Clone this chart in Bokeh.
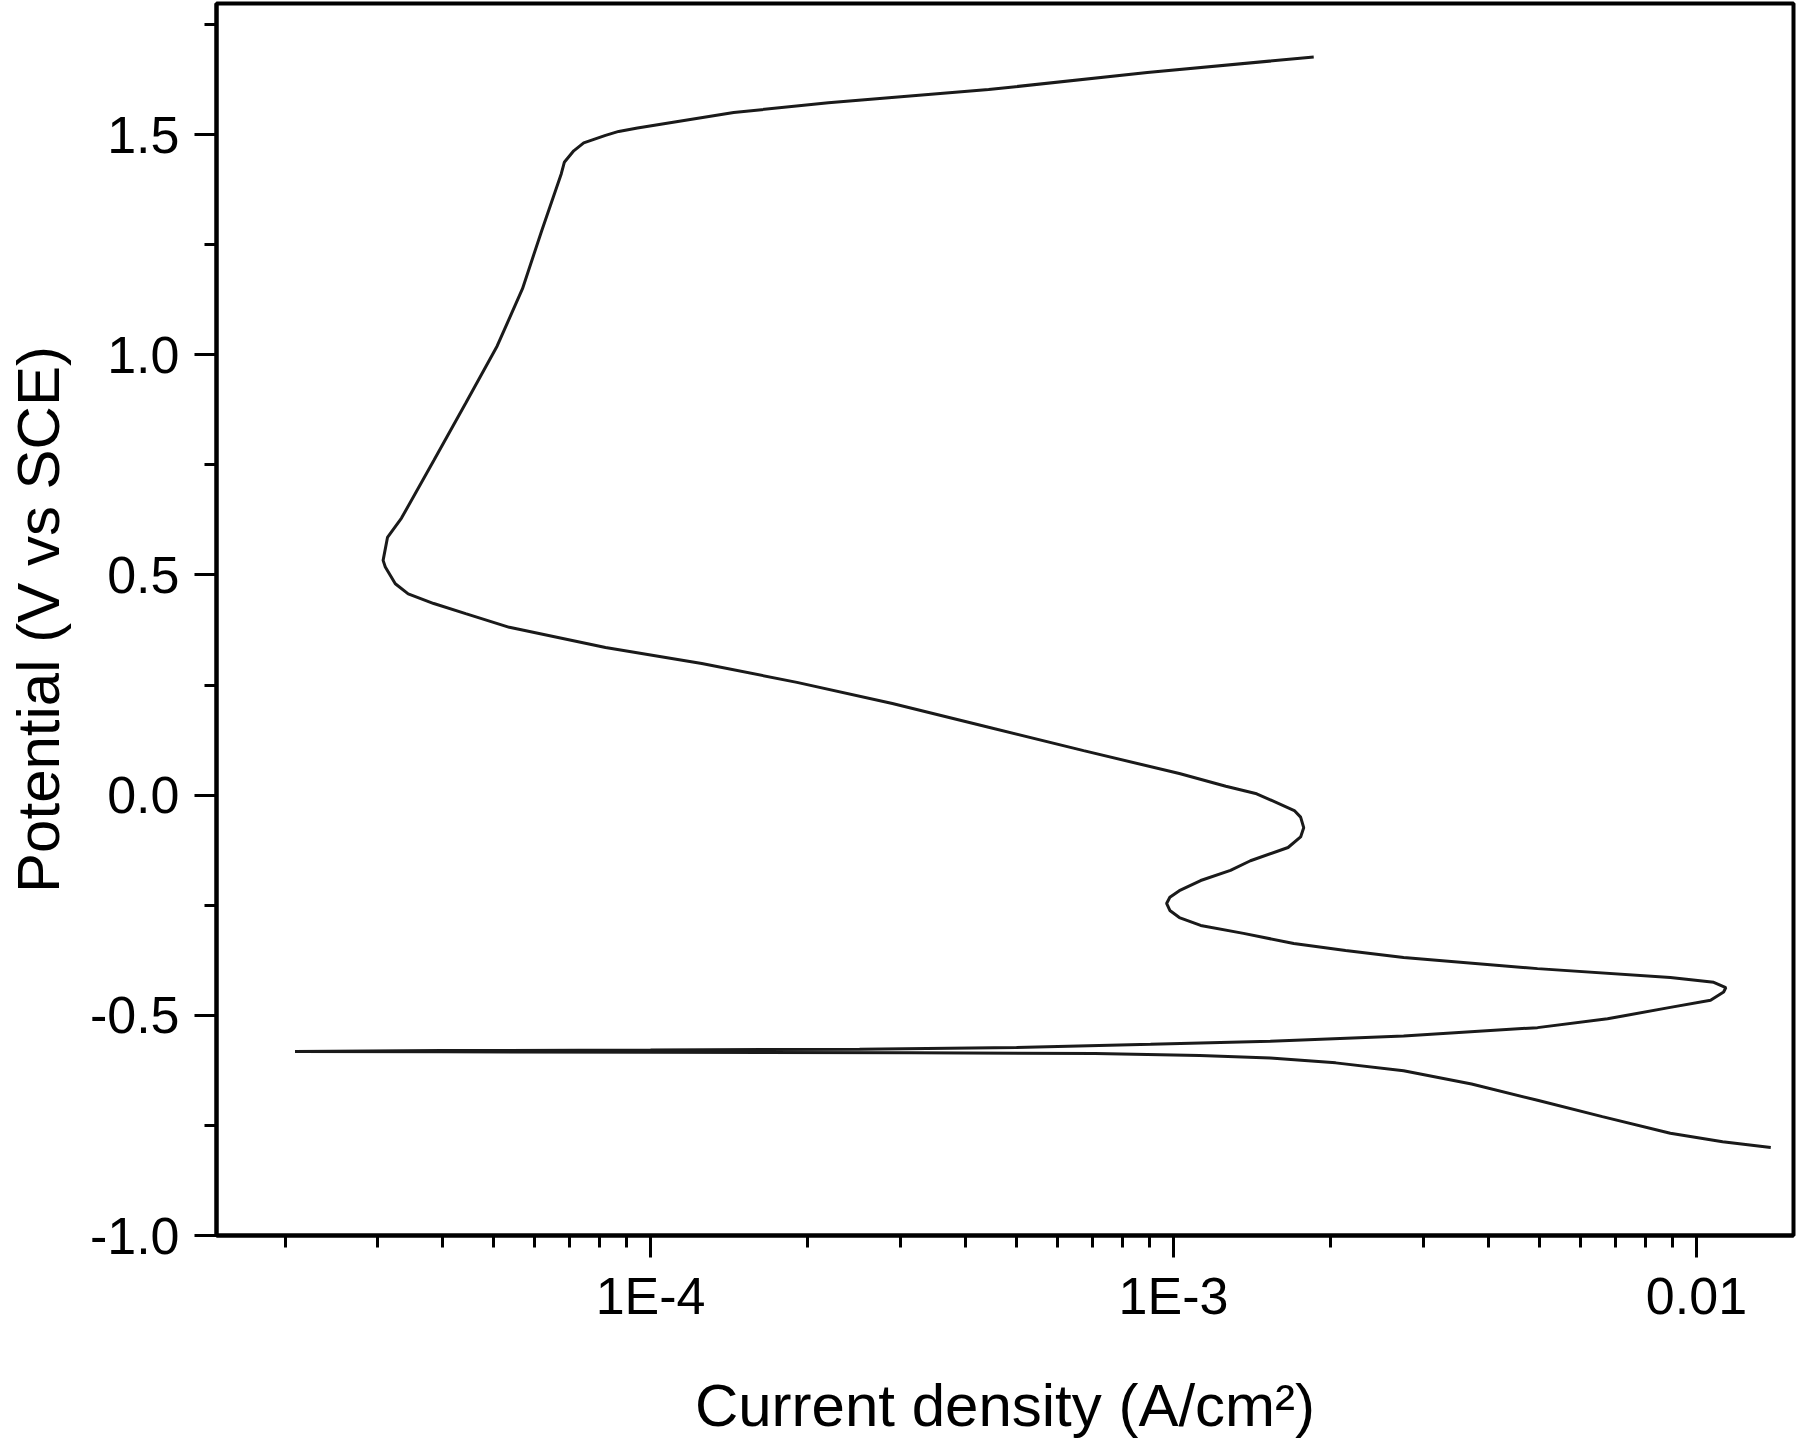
from bokeh.plotting import figure
from bokeh.models import FixedTicker, PrintfTickFormatter, CustomJSTickFormatter, Range1d
from bokeh.embed import file_html
from bokeh.resources import INLINE

# Current density (A/cm^2), in drawing order
current_density = [
    # cathodic branch
    1.387e-2, 1.122e-2, 8.913e-3, 6.607e-3, 4.966e-3, 3.715e-3, 2.754e-3, 2.042e-3,
    1.531e-3, 1.122e-3, 7.08e-4, 3.16e-4, 1.0e-4, 3.98e-5, 2.09e-5,
    # anodic return to the -0.44 V peak
    3.98e-5, 1.0e-4, 2.51e-4, 5.01e-4, 9.04e-4, 1.531e-3, 2.754e-3, 4.966e-3,
    6.76e-3, 8.913e-3, 1.064e-2, 1.127e-2, 1.138e-2, 1.079e-2, 8.913e-3, 4.966e-3, 2.754e-3,
    # S-bend
    2.133e-3, 1.698e-3, 1.361e-3, 1.127e-3, 1.026e-3, 9.84e-4, 9.70e-4, 9.84e-4,
    1.026e-3, 1.127e-3, 1.285e-3, 1.403e-3, 1.656e-3, 1.750e-3, 1.774e-3, 1.750e-3,
    1.702e-3, 1.442e-3, 1.259e-3, 1.026e-3,
    # passive region and transpassive
    6.73e-4, 4.43e-4, 2.90e-4, 1.905e-4, 1.253e-4, 8.20e-5, 5.37e-5, 4.43e-5,
    3.85e-5, 3.44e-5, 3.25e-5, 3.11e-5, 3.08e-5, 3.14e-5, 3.34e-5, 3.85e-5,
    4.43e-5, 5.09e-5, 5.69e-5, 6.19e-5, 6.75e-5, 6.84e-5, 7.13e-5, 7.45e-5,
    8.20e-5, 8.69e-5, 9.44e-5, 1.442e-4, 2.188e-4, 4.43e-4, 8.91e-4, 1.854e-3,
]
# Potential (V vs SCE)
potential = [
    -0.800, -0.787, -0.768, -0.730, -0.693, -0.656, -0.626, -0.608,
    -0.597, -0.591, -0.587, -0.585, -0.584, -0.583, -0.582,
    -0.580, -0.579, -0.577, -0.573, -0.566, -0.559, -0.547, -0.528,
    -0.508, -0.482, -0.466, -0.447, -0.437, -0.425, -0.414, -0.394, -0.369,
    -0.353, -0.337, -0.314, -0.296, -0.278, -0.262, -0.246, -0.232,
    -0.217, -0.194, -0.171, -0.149, -0.119, -0.095, -0.074, -0.050,
    -0.035, 0.003, 0.020, 0.049,
    0.101, 0.154, 0.208, 0.256, 0.299, 0.335, 0.381, 0.412,
    0.435, 0.457, 0.480, 0.518, 0.533, 0.585, 0.629, 0.760,
    0.890, 1.020, 1.150, 1.281, 1.411, 1.437, 1.463, 1.481,
    1.498, 1.507, 1.515, 1.550, 1.572, 1.602, 1.641, 1.676,
]

x_tick_values = [1e-4, 1e-3, 1e-2]
x_tick_labels = ["1E-4", "1E-3", "0.01"]
x_minor_values = [2e-5, 3e-5, 4e-5, 5e-5, 6e-5, 7e-5, 8e-5, 9e-5,
                  2e-4, 3e-4, 4e-4, 5e-4, 6e-4, 7e-4, 8e-4, 9e-4,
                  2e-3, 3e-3, 4e-3, 5e-3, 6e-3, 7e-3, 8e-3, 9e-3]
y_tick_values = [-1.0, -0.5, 0.0, 0.5, 1.0, 1.5]
y_minor_values = [-0.75, -0.25, 0.25, 0.75, 1.25, 1.75]
x_title = "Current density (A/cm²)"
y_title = "Potential (V vs SCE)"

FONT = "Liberation Sans"

p = figure(width=1800, height=1447, x_axis_type="log",
           x_range=Range1d(1.479e-5, 1.533e-2), y_range=Range1d(-1.0, 1.7975),
           output_backend="svg", toolbar_location=None,
           min_border_left=216, min_border_right=7, min_border_top=3, min_border_bottom=212)

p.line(current_density, potential, line_color="#1a1a1a", line_width=3)

p.xgrid.visible = False
p.ygrid.visible = False
p.background_fill_color = "white"
p.border_fill_color = "white"
p.outline_line_color = "black"
p.outline_line_width = 4
p.outline_line_alpha = 1.0

xa = p.xaxis[0]
xa.ticker = FixedTicker(ticks=x_tick_values, minor_ticks=x_minor_values)
xa.formatter = CustomJSTickFormatter(args=dict(vals=x_tick_values, labs=x_tick_labels), code="""
for (let i = 0; i < vals.length; i++) {
  if (Math.abs(Math.log10(tick) - Math.log10(vals[i])) < 1e-6) { return labs[i]; }
}
return "";
""")
xa.axis_label = x_title

ya = p.yaxis[0]
ya.ticker = FixedTicker(ticks=y_tick_values, minor_ticks=y_minor_values)
ya.formatter = PrintfTickFormatter(format="%.1f")
ya.axis_label = y_title

for ax in (xa, ya):
    ax.axis_line_width = 4
    ax.axis_line_color = "black"
    ax.major_tick_line_width = 3
    ax.minor_tick_line_width = 3
    ax.major_tick_line_color = "black"
    ax.minor_tick_line_color = "black"
    ax.major_tick_in = 0
    ax.major_tick_out = 22
    ax.minor_tick_in = 0
    ax.minor_tick_out = 12
    ax.major_label_text_font = FONT
    ax.major_label_text_font_size = "52px"
    ax.major_label_text_color = "black"
    ax.axis_label_text_font = FONT
    ax.axis_label_text_font_size = "60px"
    ax.axis_label_text_font_style = "normal"
    ax.axis_label_text_color = "black"

xa.major_label_standoff = 9
xa.axis_label_standoff = 44
ya.major_label_standoff = 15
ya.axis_label_standoff = 15

open("out.html", "w").write(file_html(p, INLINE))
